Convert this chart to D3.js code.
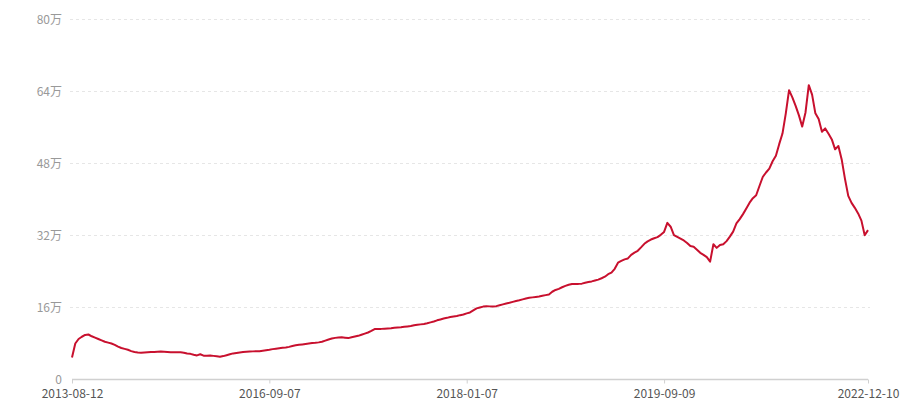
<!DOCTYPE html>
<html>
<head>
<meta charset="utf-8">
<script src="https://cdn.jsdelivr.net/npm/d3@7"></script>
<style>
  html, body { margin: 0; padding: 0; background: #fff; }
  svg { display: block; font-family: "Noto Sans CJK SC", "Noto Sans", sans-serif; }
</style>
</head>
<body>
<svg id="chart" width="900" height="400"></svg>
<script>
// values in 万 (10k), one per sample
const values = [
  4.9, 8.0, 9.0, 9.5, 9.9, 10.0, 9.6, 9.3, 9.0, 8.7,
  8.4, 8.2, 8.0, 7.7, 7.3, 7.0, 6.8, 6.6, 6.3, 6.1,
  6.0, 5.95, 6.0, 6.05, 6.1, 6.1, 6.15, 6.2, 6.15, 6.1,
  6.05, 6.05, 6.05, 6.05, 5.95, 5.8, 5.7, 5.5, 5.35, 5.6,
  5.3, 5.3, 5.35, 5.25, 5.15, 5.05, 5.2, 5.4, 5.6, 5.8,
  5.9, 6.0, 6.1, 6.15, 6.2, 6.25, 6.3, 6.3, 6.4, 6.5,
  6.6, 6.75, 6.85, 6.95, 7.05, 7.1, 7.25, 7.45, 7.6, 7.7,
  7.8, 7.9, 8.0, 8.1, 8.15, 8.25, 8.4, 8.65, 8.9, 9.1,
  9.25, 9.35, 9.4, 9.3, 9.2, 9.4, 9.55, 9.7, 9.95, 10.2,
  10.45, 10.8, 11.2, 11.25, 11.25, 11.3, 11.35, 11.4, 11.5, 11.55,
  11.6, 11.7, 11.8, 11.9, 12.05, 12.15, 12.25, 12.35, 12.5, 12.7,
  12.9, 13.15, 13.35, 13.55, 13.7, 13.9, 14.0, 14.1, 14.3, 14.45,
  14.7, 14.9, 15.35, 15.8, 16.0, 16.2, 16.3, 16.25, 16.2, 16.3,
  16.5, 16.7, 16.9, 17.05, 17.25, 17.45, 17.6, 17.8, 18.0, 18.15,
  18.25, 18.35, 18.45, 18.6, 18.75, 18.9, 19.5, 19.9, 20.15, 20.5,
  20.8, 21.05, 21.2, 21.25, 21.25, 21.3, 21.5, 21.65, 21.8, 22.0,
  22.2, 22.5, 22.85, 23.4, 23.75, 24.6, 25.95, 26.35, 26.7, 26.9,
  27.7, 28.2, 28.6, 29.35, 30.15, 30.7, 31.1, 31.4, 31.65, 32.15,
  32.8, 34.8, 33.95, 32.1, 31.7, 31.3, 30.9, 30.35, 29.65, 29.5,
  28.85, 28.15, 27.7, 27.2, 26.2, 30.05, 29.25, 29.9, 30.05, 30.75,
  31.75, 32.85, 34.7, 35.65, 36.75, 38.0, 39.3, 40.3, 40.95, 43.0,
  45.0, 46.0, 46.85, 48.5, 49.7, 52.3, 54.65, 59.1, 64.3, 62.7,
  60.8, 58.7, 56.2, 59.35, 65.4, 63.3, 59.15, 57.9, 55.05, 55.8,
  54.6, 53.35, 51.15, 51.9, 48.9, 44.6, 40.8, 39.25, 38.15, 36.9,
  35.3, 32.05, 33.2
];

// x-axis tick labels and the sample index each one sits on
const tickLabels = ["2013-08-12", "2016-09-07", "2018-01-07", "2019-09-09", "2022-12-10"];
const tickIndex = [0, 60, 120, 180, 242];

// y-axis ticks (in 万)
const yTicks = [0, 16, 32, 48, 64, 80];

const svg = d3.select("#chart");
const margin = { left: 72, right: 32, top: 19.5, bottom: 20.5 };
const W = 900, H = 400;

const x = d3.scaleLinear()
  .domain([0, values.length - 1])
  .range([margin.left, W - margin.right]);
const y = d3.scaleLinear()
  .domain([0, 80])
  .range([H - margin.bottom, margin.top]);

// grid lines
svg.append("g")
  .selectAll("line")
  .data(yTicks.filter(d => d > 0))
  .join("line")
  .attr("x1", margin.left - 2)
  .attr("x2", W - margin.right + 2)
  .attr("y1", d => y(d))
  .attr("y2", d => y(d))
  .attr("stroke", "#e6e6e6")
  .attr("stroke-width", 1)
  .attr("stroke-dasharray", "3,3");

// y axis labels
const yAxis = d3.axisLeft(y)
  .tickValues(yTicks)
  .tickSize(0)
  .tickPadding(10)
  .tickFormat(d => d === 0 ? "0" : d + "万");
const yg = svg.append("g")
  .attr("transform", `translate(${margin.left},0)`)
  .call(yAxis);
yg.select(".domain").remove();
yg.selectAll("text")
  .attr("fill", "#999")
  .style("font-size", "12px")
  .style("font-family", "'Noto Sans CJK SC', sans-serif");

// x axis
const xAxis = d3.axisBottom(x)
  .tickValues(tickIndex)
  .tickSize(4)
  .tickPadding(6)
  .tickFormat((d, i) => tickLabels[i]);
const xg = svg.append("g")
  .attr("transform", `translate(0,${H - margin.bottom})`)
  .call(xAxis);
xg.select(".domain")
  .attr("stroke", "#d0d0d0")
  .attr("stroke-width", 1.5)
  .attr("d", `M${margin.left},0H${W - margin.right}`);
xg.selectAll(".tick line").attr("stroke", "#d0d0d0");
xg.selectAll("text")
  .attr("fill", "#555")
  .style("font-size", "12px")
  .style("font-family", "'Noto Sans CJK SC', sans-serif");

// line
const line = d3.line()
  .x((d, i) => x(i))
  .y(d => y(d));
svg.append("path")
  .datum(values)
  .attr("fill", "none")
  .attr("stroke", "#c8102e")
  .attr("stroke-width", 2)
  .attr("stroke-linejoin", "round")
  .attr("d", line);
</script>
</body>
</html>
